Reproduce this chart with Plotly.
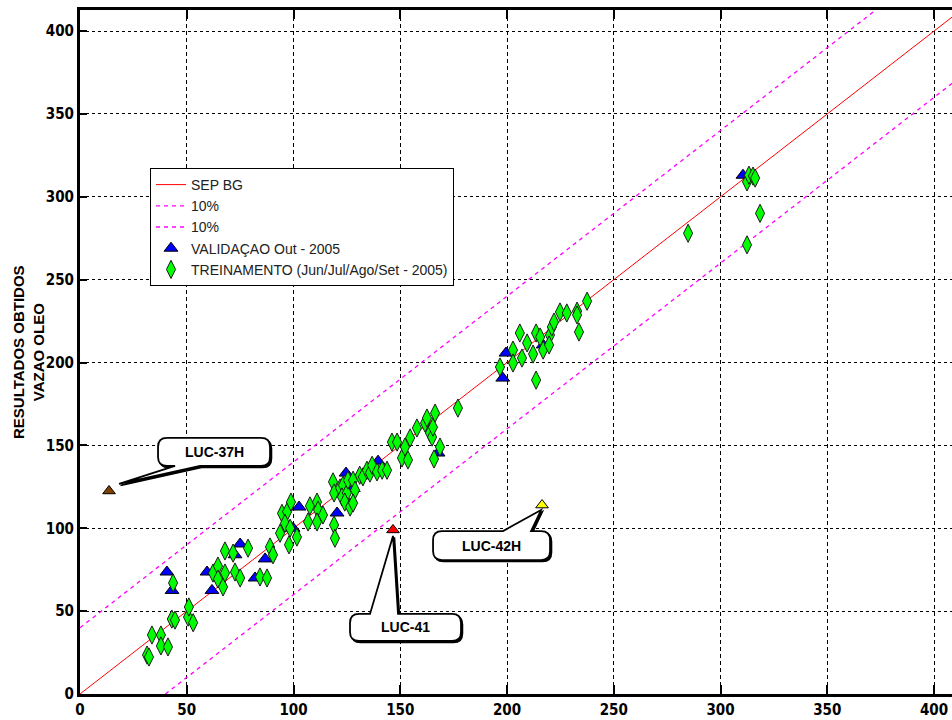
import plotly.graph_objects as go

# ---------------- data ----------------
sep_x = [0, 410]
sep_y = [0, 410]
up10_x = [0, 380]
up10_y = [40, 420]
lo10_x = [40, 450]
lo10_y = [0, 410]

val_x = [40.7, 43.1, 59.5, 61.8, 72.6, 75.0, 82.0, 86.7, 99.8, 102.6, 120.4, 124.6,
         128.0, 139.6, 167.7, 198.0, 199.5, 216.9, 310.5]
val_y = [73.6, 62.5, 73.6, 62.5, 84.0, 90.5, 70.0, 81.5, 100.0, 112.8, 109.2, 133.3,
         124.0, 140.5, 145.4, 190.6, 205.7, 210.6, 313.0]

trn_x = [31.4, 32.3, 33.7, 37.9, 37.9, 41.2, 43.0, 44.5, 50.6, 53.0, 51.0, 43.6,
         62.3, 64.6, 64.6, 67.0, 67.9, 67.9, 71.7, 72.6, 75.0, 78.7, 84.3, 87.6,
         89.0, 90.4, 93.7, 94.6, 97.0, 98.8, 96.0, 98.4, 97.9, 101.6, 106.8, 107.7,
         111.0, 111.5, 111.0, 113.8, 118.5, 119.0, 119.0, 119.4,
         121.8, 123.2, 122.7, 125.0, 124.0, 126.5, 125.5, 127.9, 128.8, 127.9, 131.0,
         132.5, 134.4, 135.8, 136.8, 139.1, 141.5, 143.8,
         146.1, 148.5, 150.8, 153.6, 152.2, 154.6, 157.8, 161.6, 162.5, 163.9, 164.9,
         165.3, 166.3, 168.6, 165.8, 177.0,
         196.7, 202.8, 202.8, 207.0, 206.0, 209.4, 212.2, 213.6, 213.6, 215.5, 216.9,
         220.1, 219.7, 221.0, 222.0, 224.8, 228.0, 232.8, 232.8, 233.7, 237.5,
         284.8, 312.4, 313.3, 315.2, 316.2, 318.5, 312.4]
trn_y = [23.5, 22.3, 35.6, 35.6, 29.0, 28.4, 45.2, 44.6, 46.4, 43.0, 52.5, 67.0,
         73.0, 77.2, 69.4, 64.6, 73.0, 86.3, 85.0, 73.6, 70.0, 88.0, 70.6, 70.0,
         88.7, 84.0, 97.0, 109.0, 110.0, 115.8, 103.0, 100.0, 90.0, 94.7, 103.8, 113.5,
         115.8, 111.0, 103.8, 108.0, 128.0, 121.3, 102.0, 94.0,
         124.3, 126.0, 118.9, 121.3, 115.8, 112.8, 129.0, 129.0, 123.0, 115.2, 132.0,
         131.0, 135.0, 133.3, 138.0, 134.0, 135.0, 135.0,
         152.0, 152.0, 142.4, 141.2, 149.0, 154.5, 160.5, 163.5, 166.5, 157.5, 155.0,
         161.0, 169.5, 149.0, 141.8, 172.5,
         197.3, 207.5, 199.7, 202.7, 217.8, 211.8, 205.1, 189.4, 217.8, 215.4, 207.5,
         216.6, 210.6, 221.4, 224.4, 230.5, 229.9, 231.0, 228.7, 218.4, 237.0,
         278.0, 309.0, 313.0, 312.5, 311.3, 290.0, 271.0]

wells = ["LUC-37H", "LUC-41", "LUC-42H"]
wells_x = [13.6, 146.6, 216.4]
wells_y = [122.5, 99.0, 114.0]
wells_col = ["#804000", "#FF0000", "#FFFF00"]

x_ticks = [0, 50, 100, 150, 200, 250, 300, 350, 400]
y_ticks = [0, 50, 100, 150, 200, 250, 300, 350, 400]

# ---------------- layout geometry ----------------
ML, MR, MT, MB = 80, 0, 10, 26
FW, FH = 952, 720
PW, PH = FW - ML - MR, FH - MT - MB
XR = [0, 408.4]
YR = [0, 412.7]


def d2p(x, y):
    return (ML + (x - XR[0]) / (XR[1] - XR[0]) * PW,
            MT + (YR[1] - y) / (YR[1] - YR[0]) * PH)


def p2d(px, py):
    return (XR[0] + (px - ML) / PW * (XR[1] - XR[0]),
            YR[1] - (py - MT) / PH * (YR[1] - YR[0]))


# callout geometry (pixel offsets from the well point): box L,R,T,B, pointer side, a, b, tip
callouts = [
    dict(L=49, R=161, T=-53, B=-25, side="bottom", a=66, b=91, tip=(10, -7)),
    dict(L=-43, R=68, T=84, B=111, side="top", a=-23, b=5, tip=(0, 6)),
    dict(L=-109, R=8, T=26, B=55, side="top", a=-39, b=-11, tip=(-1, 5)),
]


def callout_path(cx, cy, c, off=0.0):
    L, R, T, B = cx + c["L"] + off, cx + c["R"] + off, cy + c["T"] + off, cy + c["B"] + off
    a, b = cx + c["a"] + off, cx + c["b"] + off
    tx, ty = cx + c["tip"][0] + off, cy + c["tip"][1] + off
    r = 9

    def P(px, py):
        x, y = p2d(px, py)
        return f"{x:.4f},{y:.4f}"

    s = "M" + P(L + r, T)
    if c["side"] == "top":
        s += " L" + P(a, T) + " L" + P(tx, ty) + " L" + P(b, T)
    s += " L" + P(R - r, T) + " Q" + P(R, T) + " " + P(R, T + r)
    s += " L" + P(R, B - r) + " Q" + P(R, B) + " " + P(R - r, B)
    if c["side"] == "bottom":
        s += " L" + P(b, B) + " L" + P(tx, ty) + " L" + P(a, B)
    s += " L" + P(L + r, B) + " Q" + P(L, B) + " " + P(L, B - r)
    s += " L" + P(L, T + r) + " Q" + P(L, T) + " " + P(L + r, T) + " Z"
    return s


fig = go.Figure()

fig.add_trace(go.Scatter(x=sep_x, y=sep_y, mode="lines", name="SEP BG",
                         line=dict(color="#FF0000", width=1)))
fig.add_trace(go.Scatter(x=up10_x, y=up10_y, mode="lines", name="10%",
                         line=dict(color="#FF00FF", width=1.3, dash="4px,4px")))
fig.add_trace(go.Scatter(x=lo10_x, y=lo10_y, mode="lines", name="10%",
                         line=dict(color="#FF00FF", width=1.3, dash="4px,4px")))
fig.add_trace(go.Scatter(x=val_x, y=val_y, mode="markers", name="VALIDAÇAO Out - 2005",
                         marker=dict(symbol="triangle-up", size=12, color="#0000FF",
                                     line=dict(color="#000000", width=1))))
fig.add_trace(go.Scatter(x=trn_x, y=trn_y, mode="markers",
                         name="TREINAMENTO (Jun/Jul/Ago/Set - 2005)",
                         marker=dict(symbol="diamond-tall", size=13, color="#00FF00",
                                     line=dict(color="#1a1a1a", width=1))))
fig.add_trace(go.Scatter(x=wells_x, y=wells_y, mode="markers", showlegend=False,
                         marker=dict(symbol="triangle-up", size=11, color=wells_col,
                                     line=dict(color="#000000", width=1))))

shapes = []
annotations = []
for name, wx, wy, c in zip(wells, wells_x, wells_y, callouts):
    cx, cy = d2p(wx, wy)
    shapes.append(dict(type="path", path=callout_path(cx, cy, c, off=1.5),
                       xref="x", yref="y", fillcolor="#000000",
                       line=dict(color="#000000", width=1.5), layer="above"))
    shapes.append(dict(type="path", path=callout_path(cx, cy, c),
                       xref="x", yref="y", fillcolor="#FFFFFF",
                       line=dict(color="#000000", width=1.8), layer="above"))
    tx, ty = p2d(cx + (c["L"] + c["R"]) / 2, cy + (c["T"] + c["B"]) / 2)
    annotations.append(dict(x=tx, y=ty, xref="x", yref="y", text=f"<b>{name}</b>",
                            showarrow=False,
                            font=dict(family="Liberation Sans, Arial, sans-serif",
                                      size=14, color="#000000")))

annotations.append(dict(x=(28 - ML) / PW, y=0.5, xref="paper", yref="paper",
                        xanchor="center", yanchor="middle",
                        text="<b>RESULTADOS OBTIDOS<br>VAZAO OLEO</b>",
                        textangle=-90, showarrow=False,
                        font=dict(family="Liberation Sans, Arial, sans-serif",
                                  size=15, color="#000000")))

tickfont = dict(family="Liberation Sans Narrow, Arial Narrow, DejaVu Sans Condensed, sans-serif",
                size=15, color="#000000", weight="bold")

fig.update_layout(
    width=FW, height=FH,
    margin=dict(l=ML, r=MR, t=MT, b=MB, autoexpand=False),
    paper_bgcolor="#FFFFFF", plot_bgcolor="#FFFFFF",
    showlegend=True,
    legend=dict(x=(150 - ML) / PW, y=1 - (168 - MT) / PH, xanchor="left", yanchor="top",
                bgcolor="#FFFFFF", bordercolor="#000000", borderwidth=1,
                font=dict(family="Liberation Sans, Arial, sans-serif", size=14, color="#222222"),
                itemwidth=30, tracegroupgap=0),
    shapes=shapes,
    annotations=annotations,
    xaxis=dict(range=XR, tickvals=x_ticks, ticktext=[str(v) for v in x_ticks],
               showgrid=True, gridcolor="#000000", gridwidth=1, griddash="4px,3px",
               zeroline=False, showline=True, linecolor="#000000", linewidth=3,
               mirror="ticks", ticks="inside", ticklen=9, tickwidth=2, tickcolor="#000000",
               tickfont=tickfont, automargin=False),
    yaxis=dict(range=YR, tickvals=y_ticks, ticktext=[str(v) for v in y_ticks],
               showgrid=True, gridcolor="#000000", gridwidth=1, griddash="3px,3px",
               zeroline=False, showline=True, linecolor="#000000", linewidth=3,
               mirror=False, ticks="inside", ticklen=7, tickwidth=2, tickcolor="#000000",
               tickfont=tickfont, automargin=False),
)

fig.write_html("out.html", config={"displayModeBar": False},
               post_script="document.body.style.margin='0';document.body.style.overflow='hidden';")
